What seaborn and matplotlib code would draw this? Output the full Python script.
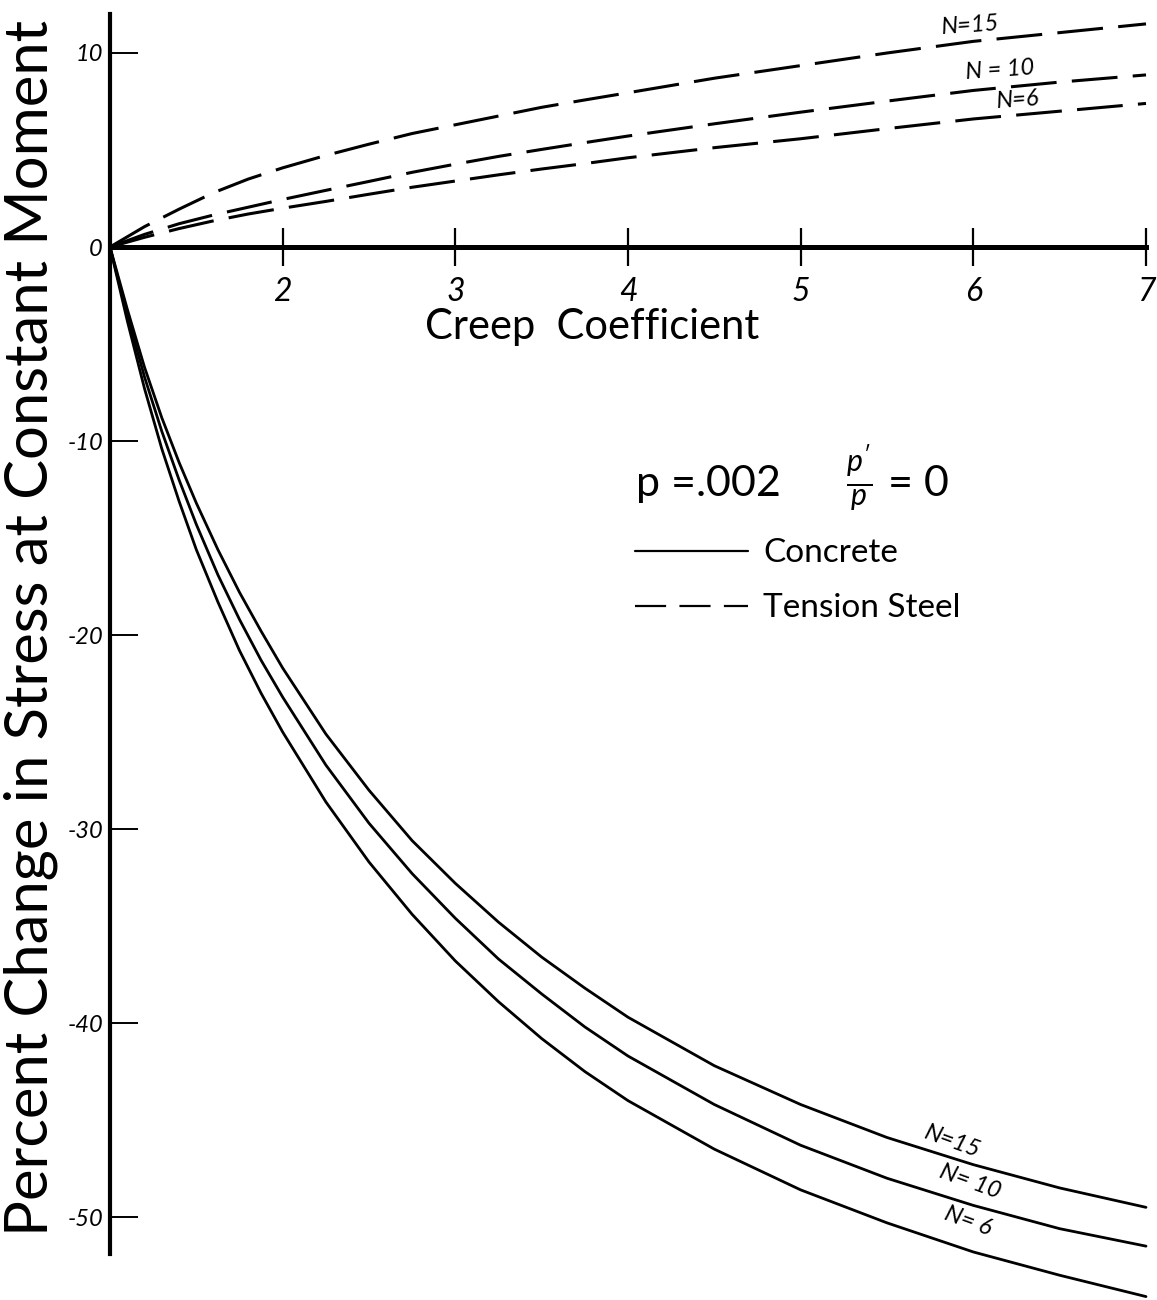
import numpy as np
import pandas as pd
import seaborn as sns
import matplotlib.pyplot as plt
from matplotlib.lines import Line2D

# Creep coefficient values at which the concrete curves were read
creep_concrete = [1.0, 1.1, 1.2, 1.3, 1.4, 1.5, 1.625, 1.75, 1.875, 2.0, 2.25, 2.5,
                  2.75, 3.0, 3.25, 3.5, 3.75, 4.0, 4.5, 5.0, 5.5, 6.0, 6.5, 7.0]
concrete_n15 = [0, -3.2, -6.2, -8.8, -11.1, -13.2, -15.6, -17.8, -19.8, -21.7, -25.1, -28.0,
                -30.6, -32.8, -34.8, -36.6, -38.2, -39.7, -42.2, -44.2, -45.9, -47.3, -48.5, -49.5]
concrete_n10 = [0, -3.5, -6.7, -9.5, -12.0, -14.3, -16.9, -19.2, -21.3, -23.2, -26.7, -29.7,
                -32.3, -34.6, -36.7, -38.5, -40.2, -41.7, -44.2, -46.3, -48.0, -49.4, -50.6, -51.5]
concrete_n6 = [0, -3.8, -7.3, -10.4, -13.1, -15.6, -18.3, -20.8, -23.0, -25.0, -28.6, -31.7,
               -34.4, -36.8, -38.9, -40.8, -42.5, -44.0, -46.5, -48.6, -50.3, -51.8, -53.0, -54.1]

# Creep coefficient values at which the tension steel curves were read
creep_steel = [1.0, 1.2, 1.4, 1.6, 1.8, 2.0, 2.25, 2.5, 2.75, 3.0, 3.25, 3.5, 3.75, 4.0,
               4.5, 5.0, 5.5, 6.0, 6.5, 7.0]
steel_n15 = [0, 1.05, 1.95, 2.8, 3.5, 4.08, 4.72, 5.3, 5.85, 6.3, 6.75, 7.2, 7.58, 7.95,
             8.7, 9.35, 10.0, 10.6, 11.05, 11.5]
steel_n10 = [0, 0.65, 1.2, 1.65, 2.05, 2.45, 2.92, 3.38, 3.85, 4.27, 4.67, 5.03, 5.38, 5.72,
             6.35, 6.95, 7.52, 8.07, 8.5, 8.87]
steel_n6 = [0, 0.5, 0.95, 1.35, 1.7, 2.0, 2.35, 2.72, 3.08, 3.4, 3.72, 4.02, 4.3, 4.6,
            5.12, 5.58, 6.1, 6.6, 7.0, 7.4]

modular_ratios = [15, 10, 6]
x_ticks = [2, 3, 4, 5, 6, 7]
y_ticks = [10, 0, -10, -20, -30, -40, -50]


def long_frame(x, series):
    rows = []
    for n, ys in zip(modular_ratios, series):
        rows.append(pd.DataFrame({"creep": x, "change": ys, "N": n}))
    return pd.concat(rows, ignore_index=True)


concrete = long_frame(creep_concrete, [concrete_n15, concrete_n10, concrete_n6])
steel = long_frame(creep_steel, [steel_n15, steel_n10, steel_n6])

sns.set_theme(style="white")
plt.rcParams["font.family"] = ["Lato", "DejaVu Sans"]
plt.rcParams["font.weight"] = "normal"
plt.rcParams["text.color"] = "black"
plt.rcParams["axes.labelcolor"] = "black"
plt.rcParams["xtick.color"] = "black"
plt.rcParams["ytick.color"] = "black"
plt.rcParams["mathtext.fontset"] = "custom"
plt.rcParams["mathtext.it"] = "Lato:italic"
plt.rcParams["mathtext.rm"] = "Lato"

fig = plt.figure(figsize=(11.57, 13), dpi=100)
ax = fig.add_axes([0.09507, 0.03546, 0.89542, 0.95362])

sns.lineplot(data=concrete, x="creep", y="change", units="N", estimator=None,
             color="black", lw=2.0, sort=False, legend=False, ax=ax, clip_on=False)
sns.lineplot(data=steel, x="creep", y="change", units="N", estimator=None,
             color="black", lw=2.2, sort=False, legend=False, ax=ax,
             linestyle=(0, (15, 5)), clip_on=False)

ax.set_xlim(1, 7)
ax.set_ylim(-51.9, 12)
ax.grid(False)

# Axes drawn as a cross through the origin
for side in ("top", "right"):
    ax.spines[side].set_visible(False)
ax.spines["bottom"].set_position(("data", 0))
ax.spines["bottom"].set_linewidth(3.6)
ax.spines["left"].set_linewidth(3.0)
ax.spines["bottom"].set_color("black")
ax.spines["left"].set_color("black")

ax.set_xticks(x_ticks)
ax.set_xticklabels([str(t) for t in x_ticks], fontsize=23, style="italic",
                   color="black")
ax.set_yticks(y_ticks)
ax.set_yticklabels([str(t) for t in y_ticks], fontsize=17, style="italic",
                   color="black")
ax.tick_params(axis="x", bottom=True, direction="inout", length=27, width=1.6,
               pad=8, colors="black")
ax.tick_params(axis="y", left=True, direction="in", length=20, width=1.4,
               pad=5, colors="black")

ax.set_xlabel("Creep  Coefficient", fontsize=30, color="black")
ax.xaxis.set_label_coords(0.465, 0.763)
ax.set_ylabel("Percent Change in Stress at Constant Moment", fontsize=43,
              color="black")
ax.yaxis.set_label_coords(-0.05, 0.505)

# Curve labels
label_kw = dict(fontsize=17, style="italic", ha="center", va="center",
                color="black")
ax.text(5.985, 11.43, "N=15", rotation=4, **label_kw)
ax.text(6.153, 9.11, "N = 10", rotation=4, **label_kw)
ax.text(6.258, 7.57, "N=6", rotation=4, **label_kw)
ax.text(5.876, -46.1, "N=15", rotation=-20, **label_kw)
ax.text(5.98, -48.2, "N= 10", rotation=-20, **label_kw)
ax.text(5.97, -50.2, "N= 6", rotation=-20, **label_kw)

handles = [Line2D([], [], color="black", lw=1.6),
           Line2D([], [], color="black", lw=1.6, linestyle=(0, (14, 6)))]
leg = ax.legend(handles, ["Concrete", "Tension Steel"],
                title=r"p =.002      $\frac{p'}{p}$ = 0",
                loc="upper left", bbox_to_anchor=(0.5068, 0.6545),
                frameon=False, fontsize=24, title_fontsize=31,
                handlelength=3.4, handletextpad=0.45, labelspacing=0.75,
                alignment="left", borderpad=0, borderaxespad=0)
for txt in leg.get_texts():
    txt.set_color("black")
leg.get_title().set_color("black")

fig.savefig("out.png", dpi=100, facecolor="white")
